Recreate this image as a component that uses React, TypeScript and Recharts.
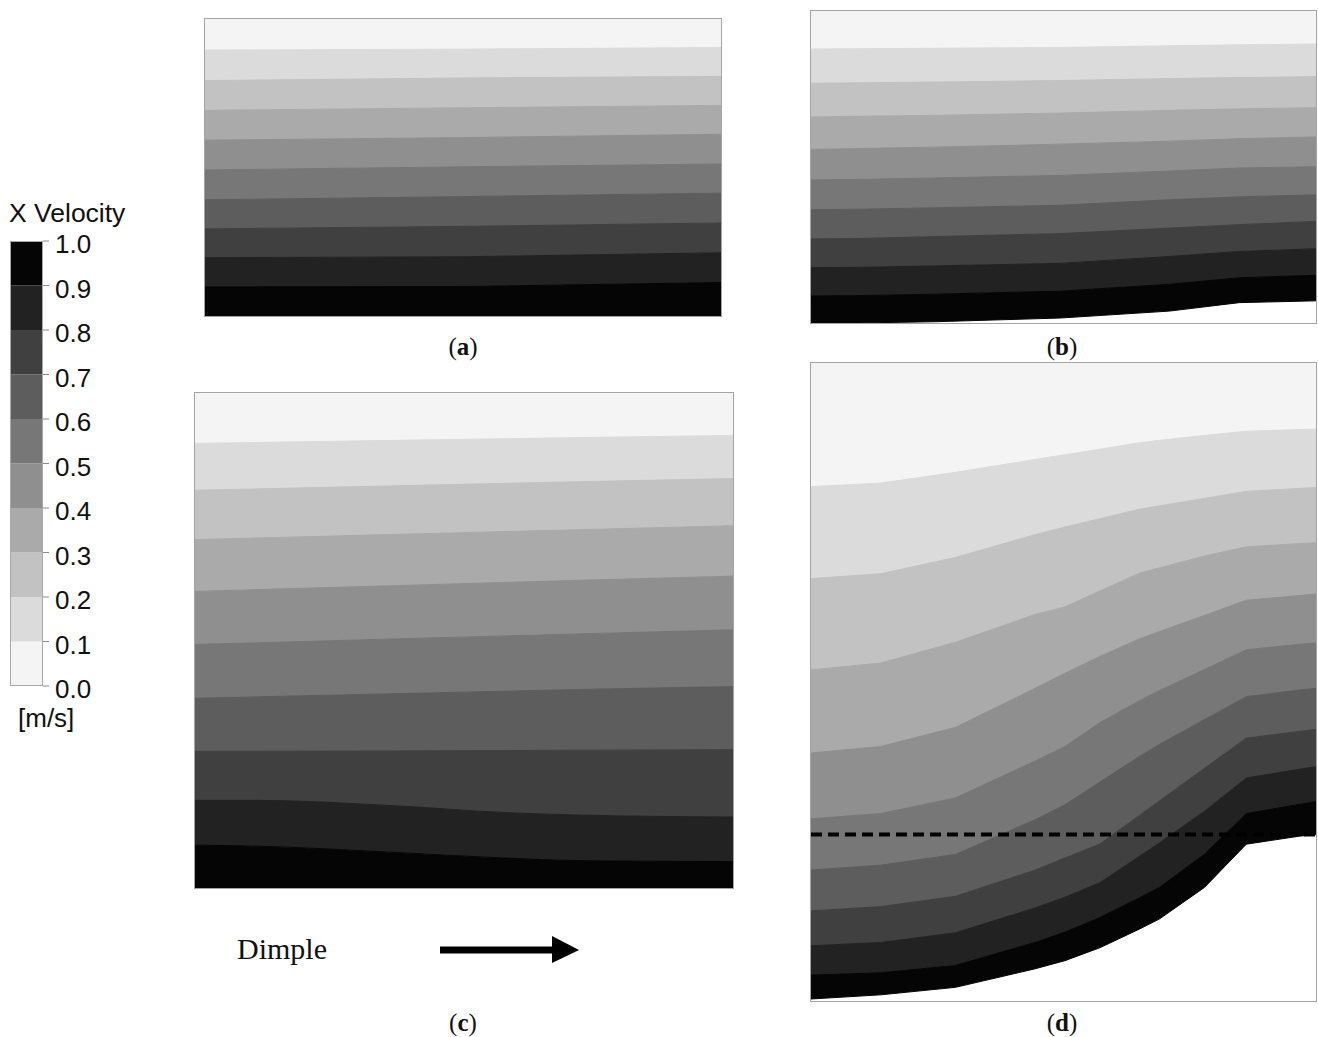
import React from 'react'
import { AreaChart, Area, XAxis, YAxis, ReferenceLine, BarChart, Bar } from 'recharts'

// contour levels, lightest (0.0-0.1 m/s) to darkest (0.9-1.0 m/s)
const BAND_COLORS = ['#f4f4f4', '#dbdbdb', '#c2c2c2', '#aaaaaa', '#8f8f8f', '#777777', '#5d5d5d', '#404040', '#222222', '#050505']
const LEGEND_TICKS = [0, 0.1, 0.2, 0.3, 0.4, 0.5, 0.6, 0.7, 0.8, 0.9, 1.0]

// each panel: streamwise stations and the depth (from the top edge) of every level boundary there;
// first row is the top edge, last row the wall
const A_X = [0, 266, 518]
const A_BOUNDS = [
  [0, 0, 0],
  [31.3, 30.3, 28.7],
  [62, 59.3, 57.7],
  [92, 89.3, 87],
  [122, 119.3, 116],
  [152, 148.7, 146],
  [182, 178.7, 175.3],
  [211.3, 208.7, 205.3],
  [240.3, 239.3, 235.3],
  [269.7, 269.3, 265.3],
  [299, 299, 299],
]

const B_X = [0, 45, 125, 250, 360, 430, 507]
const B_BOUNDS = [
  [0, 0, 0, 0, 0, 0, 0],
  [38.3, 38, 37.5, 36.7, 35, 34, 33.3],
  [72.7, 72.3, 71.5, 70, 68, 67, 66],
  [106.7, 106, 105, 102.7, 100, 98.5, 97.3],
  [139.3, 138.5, 137, 134, 131, 128.5, 126.7],
  [170, 169.5, 168, 165.5, 161, 158, 156.7],
  [200, 199.5, 198, 195.5, 190, 187, 185],
  [229.3, 229, 227, 224, 218.5, 215, 211.7],
  [258.3, 258, 256.5, 254, 247, 242, 239.3],
  [286.7, 286.5, 285, 282, 275, 268.5, 266],
  [314, 314, 312.7, 309, 302, 293.5, 291.7],
]

const C_X = [0, 62, 205, 312, 384, 540]
const C_BOUNDS = [
  [0, 0, 0, 0, 0, 0],
  [50.6, 49.7, 47.5, 45.9, 44.8, 42.6],
  [97.6, 96.3, 93.1, 90.7, 89.1, 85.9],
  [147.2, 145.6, 141.9, 139.1, 137.3, 133.2],
  [199.2, 197.4, 193.3, 190.2, 188.1, 183.9],
  [252.5, 250.8, 246.8, 243.9, 241.9, 237.8],
  [306.5, 305.1, 301.8, 299.4, 297.7, 294.8],
  [359.8, 359.7, 359.3, 359, 358.6, 358.1],
  [409, 409, 414.7, 421.3, 423.7, 425.7],
  [454, 455, 461.5, 467, 469.5, 470.5],
  [497, 497, 497, 497, 497, 497],
]

const D_X = [0, 70, 145, 225, 255, 290, 330, 350, 395, 437, 490, 507]
const D_BOUNDS = [
  [0, 0, 0, 0, 0, 0, 0, 0, 0, 0, 0, 0],
  [124, 120.5, 109.7, 96.8, 92, 86.5, 80, 77.6, 72.7, 68.5, 66.8, 66.3],
  [216.3, 211.4, 195.1, 172.2, 164.6, 156.2, 146.6, 143.3, 135.8, 128.8, 125.8, 125],
  [307.9, 301, 280.2, 252.2, 244.7, 228.7, 210.8, 205.5, 193.7, 184.4, 181.2, 180.3],
  [391.2, 384.7, 365.5, 326.3, 311.3, 294.4, 276.6, 269.4, 253.2, 238, 233.3, 231.8],
  [457.2, 452, 436.3, 399.3, 384.7, 360.8, 338.6, 328.6, 307.5, 287.7, 282.2, 280.8],
  [508.6, 503.8, 493, 458.2, 443.1, 420.4, 394.5, 382.5, 357.8, 334.7, 328.1, 326.4],
  [549.6, 545.3, 535, 508.7, 496.5, 482.5, 453.6, 439.1, 406.6, 376.3, 369.6, 367.5],
  [584.6, 581.3, 571.6, 546.6, 535.9, 521.3, 494.6, 481.3, 449.7, 416.3, 407.6, 404.9],
  [614, 611.7, 604.4, 581.2, 570.9, 556.3, 536.4, 525.8, 492.8, 452, 442.8, 439.9],
  [638, 633.8, 626.3, 607.7, 599.5, 586.6, 567.7, 557.6, 526.1, 482.7, 474.7, 473.1],
]
const D_REF_DEPTH = 473

const serif = '"Liberation Serif", "DejaVu Serif", serif'
const sans = '"Liberation Sans", Arial, sans-serif'

type PanelProps = {
  left: number
  top: number
  width: number
  height: number
  xs: number[]
  bounds: number[][]
  curve?: 'linear' | 'monotoneX'
  refDepth?: number
}

function ContourPanel({ left, top, width, height, xs, bounds, curve = 'linear', refDepth }: PanelProps) {
  const rows = xs.map((x, i) => {
    const r: Record<string, number> = { x }
    bounds.forEach((b, k) => {
      r['b' + k] = b[i]
    })
    return r
  })
  return (
    <div
      style={{
        position: 'absolute',
        left,
        top,
        width,
        height,
        border: '1px solid #a4a4a4',
        boxSizing: 'border-box',
        background: '#fff',
      }}
    >
      <AreaChart width={width - 2} height={height - 2} data={rows} margin={{ top: 0, right: 0, bottom: 0, left: 0 }}>
        <XAxis type="number" dataKey="x" domain={[0, xs[xs.length - 1]]} hide allowDataOverflow />
        <YAxis type="number" domain={[0, height]} reversed hide allowDataOverflow />
        {BAND_COLORS.map((c, k) => (
          <Area
            key={c}
            type={curve}
            dataKey={(r: Record<string, number>) => [r['b' + (k + 1)], r['b' + k]]}
            fill={c}
            fillOpacity={1}
            stroke={c}
            strokeWidth={1}
            dot={false}
            activeDot={false}
            isAnimationActive={false}
          />
        ))}
        {refDepth !== undefined && (
          <ReferenceLine y={refDepth} stroke="#000" strokeWidth={4} strokeDasharray="11 6" />
        )}
      </AreaChart>
    </div>
  )
}

function Caption({ x, y, letter }: { x: number; y: number; letter: string }) {
  return (
    <div
      style={{
        position: 'absolute',
        left: x - 50,
        top: y,
        width: 100,
        textAlign: 'center',
        fontFamily: serif,
        fontSize: 25,
        lineHeight: '25px',
        color: '#111',
      }}
    >
      (<b>{letter}</b>)
    </div>
  )
}

function ColorBar() {
  const steps = LEGEND_TICKS.slice(1).map((t, i) => t - LEGEND_TICKS[i])
  const row: Record<string, number | string> = { name: 'u' }
  steps.forEach((s, i) => {
    row['s' + i] = s
  })
  return (
    <div style={{ position: 'absolute', left: 10, top: 221 }}>
      <BarChart
        width={105}
        height={490}
        data={[row]}
        margin={{ top: 20, right: 0, bottom: 25, left: 0 }}
        barCategoryGap={0}
        barGap={0}
      >
        <XAxis dataKey="name" hide />
        <YAxis
          orientation="right"
          width={72}
          domain={[0, 1]}
          ticks={LEGEND_TICKS}
          interval={0}
          tickFormatter={(v: number) => v.toFixed(1)}
          axisLine={false}
          tickLine={{ stroke: '#8a8a8a' }}
          tickSize={6}
          tickMargin={6}
          tick={{ fill: '#111', fontSize: 26, fontFamily: sans, dy: 3 }}
        />
        {BAND_COLORS.map((c, i) => (
          <Bar key={c} dataKey={'s' + i} stackId="cb" fill={c} isAnimationActive={false} />
        ))}
      </BarChart>
      <div
        style={{
          position: 'absolute',
          left: 0,
          top: 20,
          width: 33,
          height: 445,
          border: '1px solid #a8a8a8',
          boxSizing: 'border-box',
        }}
      />
    </div>
  )
}

export default function App() {
  return (
    <div style={{ position: 'absolute', left: 0, top: 0, width: 1318, height: 1037, background: '#fff', overflow: 'hidden' }}>
      <div style={{ position: 'absolute', left: 9, top: 200, fontFamily: sans, fontSize: 26.5, lineHeight: '26px', color: '#111' }}>
        X Velocity
      </div>
      <ColorBar />
      <div style={{ position: 'absolute', left: 18, top: 705, fontFamily: sans, fontSize: 26, lineHeight: '26px', color: '#111' }}>
        [m/s]
      </div>

      <ContourPanel left={204} top={18} width={518} height={299} xs={A_X} bounds={A_BOUNDS} />
      <ContourPanel left={810} top={10} width={507} height={314} xs={B_X} bounds={B_BOUNDS} />
      <ContourPanel left={194} top={392} width={540} height={497} xs={C_X} bounds={C_BOUNDS} curve="monotoneX" />
      <ContourPanel left={810} top={362} width={507} height={640} xs={D_X} bounds={D_BOUNDS} refDepth={D_REF_DEPTH} />

      <Caption x={463} y={334} letter="a" />
      <Caption x={1062} y={334} letter="b" />
      <Caption x={463} y={1010} letter="c" />
      <Caption x={1062} y={1010} letter="d" />

      <div style={{ position: 'absolute', left: 237, top: 934, fontFamily: serif, fontSize: 30, lineHeight: '30px', color: '#111' }}>
        Dimple
      </div>
      <svg style={{ position: 'absolute', left: 430, top: 930 }} width={160} height={40}>
        <rect x={10} y={16.5} width={113} height={7} fill="#000" />
        <polygon points="122,6 149,20 122,33" fill="#000" />
      </svg>
    </div>
  )
}
